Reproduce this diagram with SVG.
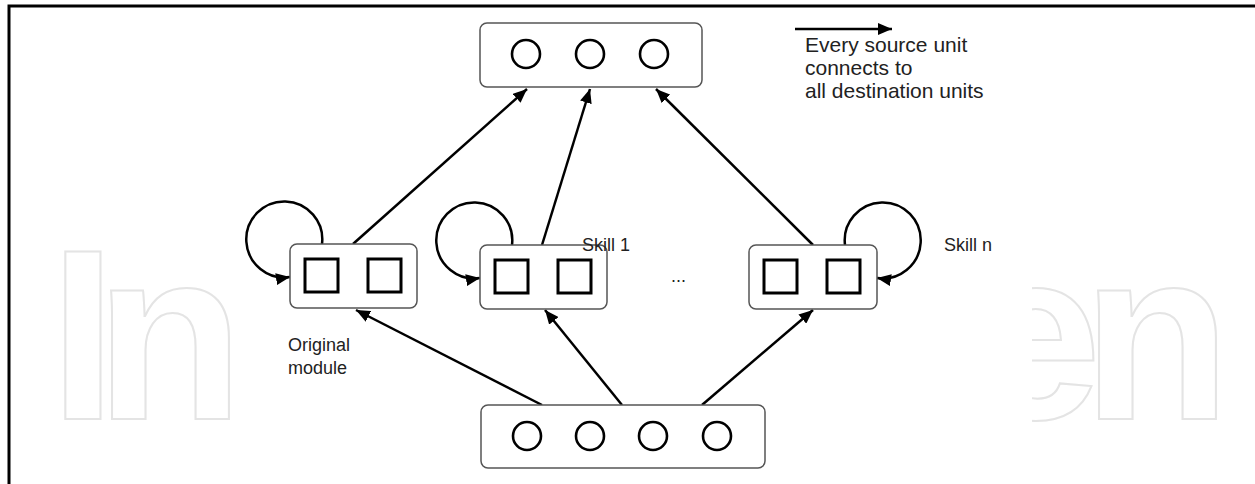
<svg xmlns="http://www.w3.org/2000/svg" width="1255" height="484" viewBox="0 0 1255 484">
  <style>
    .box { fill: #fff; stroke: #555; stroke-width: 1.5; }
    .unit { fill: none; stroke: #000; stroke-width: 2.6; }
    .cell { fill: none; stroke: #000; stroke-width: 3; }
    .edge { fill: none; stroke: #000; stroke-width: 2.5; marker-end: url(#head); }
    .label { font-family: "Liberation Sans", Arial, sans-serif; font-size: 18px; fill: #222; }
    .note { font-family: "Liberation Sans", Arial, sans-serif; font-size: 21px; fill: #222; }
    .mark { font-family: "Liberation Sans", Arial, sans-serif; font-weight: 700; font-size: 244px; fill: none; stroke: #e4e4e4; stroke-width: 2; }
  </style>
  <defs>
    <marker id="head" markerUnits="userSpaceOnUse" markerWidth="15" markerHeight="12" refX="14" refY="6" orient="auto">
      <path d="M0,0 L14,6 L0,12 z" fill="#000"/>
    </marker>
  </defs>

  <rect width="1255" height="484" fill="#fff"/>

  <!-- background mark, its middle hidden behind the drawing area -->
  <g id="watermark">
    <text class="mark" x="49 95" y="419">In</text>
    <text class="mark" x="966 1082" y="419">en</text>
    <rect x="233" y="150" width="799" height="300" fill="#fff"/>
  </g>

  <!-- frame -->
  <path d="M9,484 V6 H1255" fill="none" stroke="#000" stroke-width="3"/>

  <g id="connectors">
    <!-- skill modules into output layer -->
    <path class="edge" d="M353,244 L527,89"/>
    <path class="edge" d="M542,245 L590,89"/>
    <path class="edge" d="M813,245 L656,89"/>
    <!-- input layer into skill modules -->
    <path class="edge" d="M542,405 L356,310"/>
    <path class="edge" d="M622,405 L545,310"/>
    <path class="edge" d="M702,405 L813,310"/>
    <!-- recurrent self loops -->
    <path class="edge" d="M322,244 A38,38 0 1 0 290,277"/>
    <path class="edge" d="M512,245 A38,38 0 1 0 480,278"/>
    <path class="edge" d="M845,245 A38,38 0 1 1 877,278"/>
    <!-- legend arrow -->
    <path class="edge" d="M795,29 L892,29"/>
  </g>

  <g id="output-layer">
    <rect class="box" x="480" y="23" width="222" height="64" rx="7"/>
    <circle class="unit" cx="526" cy="54" r="14"/>
    <circle class="unit" cx="590" cy="54" r="14"/>
    <circle class="unit" cx="654" cy="54" r="14"/>
  </g>

  <g id="original-module">
    <rect class="box" x="290" y="244" width="127" height="64" rx="7"/>
    <rect class="cell" x="305" y="259" width="33" height="33"/>
    <rect class="cell" x="368" y="259" width="33" height="33"/>
    <text class="label" x="288" y="351">Original</text>
    <text class="label" x="288" y="374">module</text>
  </g>

  <g id="skill-1">
    <rect class="box" x="480" y="245" width="127" height="64" rx="7"/>
    <rect class="cell" x="495" y="260" width="33" height="33"/>
    <rect class="cell" x="558" y="260" width="33" height="33"/>
    <text class="label" x="582" y="251">Skill 1</text>
  </g>

  <text class="label" x="671" y="282">...</text>

  <g id="skill-n">
    <rect class="box" x="749" y="245" width="128" height="64" rx="7"/>
    <rect class="cell" x="764" y="260" width="33" height="33"/>
    <rect class="cell" x="827" y="260" width="33" height="33"/>
    <text class="label" x="944" y="251">Skill n</text>
  </g>

  <g id="input-layer">
    <rect class="box" x="481" y="405" width="284" height="63" rx="7"/>
    <circle class="unit" cx="527" cy="436" r="14"/>
    <circle class="unit" cx="590" cy="436" r="14"/>
    <circle class="unit" cx="653" cy="436" r="14"/>
    <circle class="unit" cx="717" cy="436" r="14"/>
  </g>

  <g id="legend">
    <text class="note" x="805" y="52">Every source unit</text>
    <text class="note" x="805" y="75">connects to</text>
    <text class="note" x="805" y="98">all destination units</text>
  </g>
</svg>
